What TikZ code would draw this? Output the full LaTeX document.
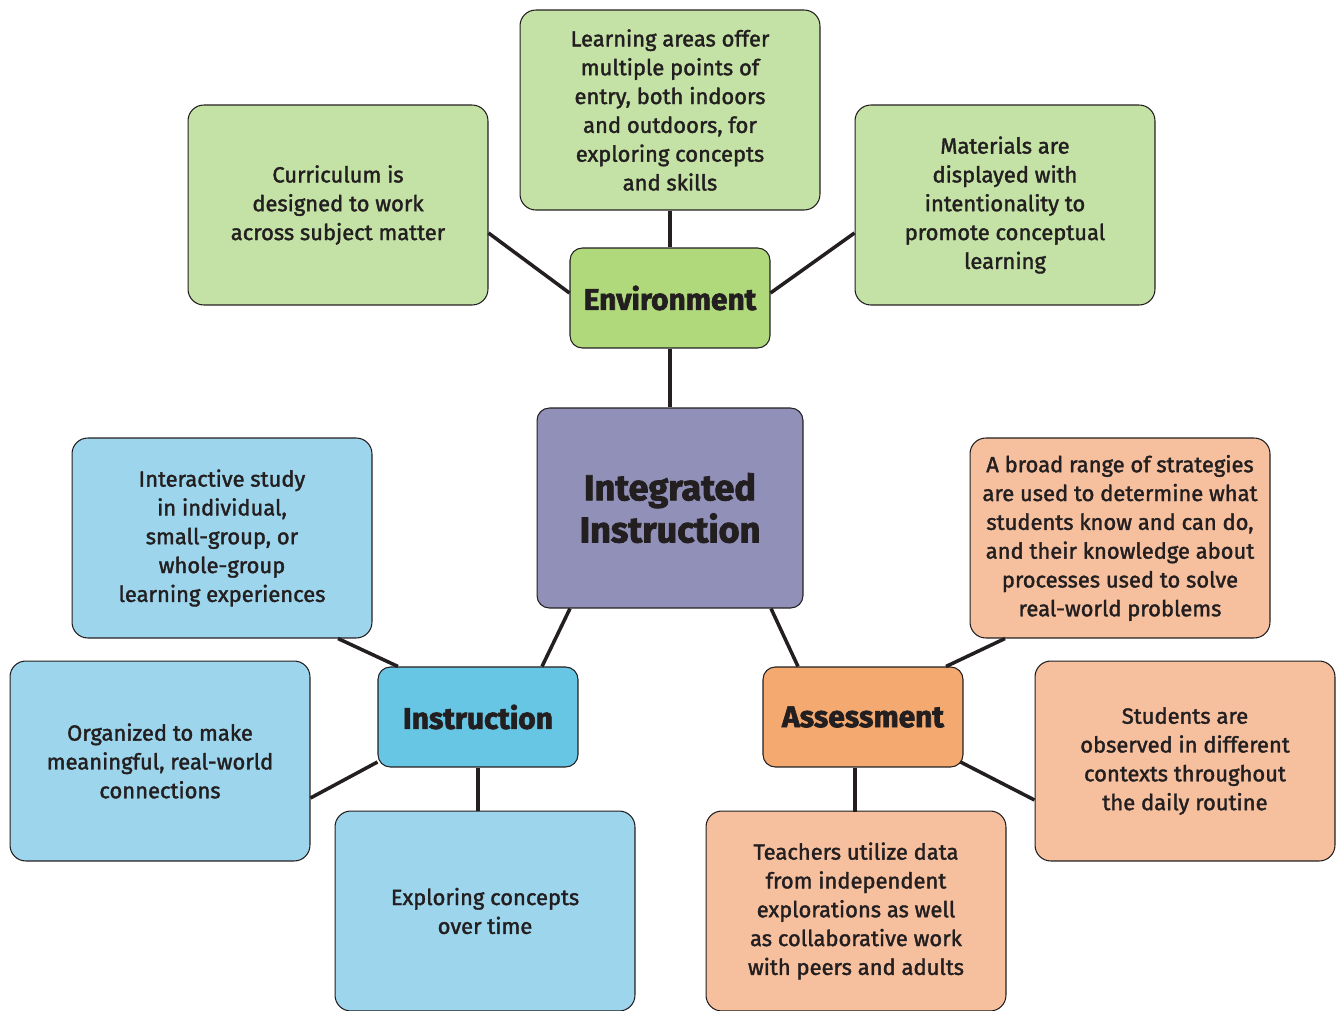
\documentclass[tikz,border=0pt]{standalone}
\usepackage{fontspec}
\setmainfont{Fira Sans}[UprightFeatures={FakeBold=1.7}]
\newfontfamily\titlefont{Fira Sans}[BoldFeatures={FakeBold=2.2}]
\usetikzlibrary{calc}
\definecolor{gl}{HTML}{C4E2A5}
\definecolor{gd}{HTML}{B0D97C}
\definecolor{pu}{HTML}{9090B8}
\definecolor{bl}{HTML}{9DD5EC}
\definecolor{bd}{HTML}{66C6E4}
\definecolor{ol}{HTML}{F6C09F}
\definecolor{od}{HTML}{F3A96F}
\definecolor{tx}{HTML}{231F20}
\tikzset{
  box/.style={draw=tx, line width=0.6pt, rounded corners=9pt, minimum width=6cm, minimum height=4cm, align=center, text=tx, font=\fontsize{12.5}{16.4}\selectfont},
  hub/.style={draw=tx, line width=0.6pt, rounded corners=7pt, minimum width=4cm, minimum height=2cm, align=center, text=tx, font=\titlefont\bfseries\fontsize{17}{18}\selectfont},
  conn/.style={draw=tx, line width=2pt}
}
\begin{document}
\begin{tikzpicture}[x=0.02cm, y=-0.02cm]
\useasboundingbox (0,0) rectangle (1343,1011);
\node[box, fill=gl] (top) at (670,110) {Learning areas offer\\multiple points of\\entry, both indoors\\and outdoors, for\\exploring concepts\\and skills};
\node[box, fill=gl] (cur) at (338,205) {Curriculum is\\designed to work\\across subject matter};
\node[box, fill=gl] (mat) at (1005,205) {Materials are\\displayed with\\intentionality to\\promote conceptual\\learning};
\node[hub, fill=gd] (env) at (670,298) {Environment};
\node[hub, fill=pu, minimum width=5.32cm, minimum height=4cm, font=\titlefont\bfseries\fontsize{20.5}{24}\selectfont] (int) at (670,508) {Integrated\\Instruction};
\node[box, fill=bl] (inter) at (222,538) {Interactive study\\in individual,\\small-group, or\\whole-group\\learning experiences};
\node[box, fill=bl] (org) at (160,761) {Organized to make\\meaningful, real-world\\connections};
\node[hub, fill=bd] (instr) at (478,717) {Instruction};
\node[box, fill=bl] (expl) at (485,911) {Exploring concepts\\over time};
\node[hub, fill=od] (assess) at (863,717) {Assessment};
\node[box, fill=ol] (broad) at (1120,538) {A broad range of strategies\\are used to determine what\\students know and can do,\\and their knowledge about\\processes used to solve\\real-world problems};
\node[box, fill=ol] (stud) at (1185,761) {Students are\\observed in different\\contexts throughout\\the daily routine};
\node[box, fill=ol] (teach) at (856,911) {Teachers utilize data\\from independent\\explorations as well\\as collaborative work\\with peers and adults};
% connectors
\draw[conn] (top.south) -- (env.north);
\draw[conn] ($(cur.east)+(0,28)$) -- ($(env.west)+(0,-5)$);
\draw[conn] ($(mat.west)+(0,28)$) -- ($(env.east)+(0,-5)$);
\draw[conn] (env.south) -- (int.north);
\draw[conn] ($(int.south)+(-100,0)$) -- ($(instr.north)+(64,0)$);
\draw[conn] ($(int.south)+(101,0)$) -- ($(assess.north)+(-65,0)$);
\draw[conn] ($(inter.south)+(116,0)$) -- ($(instr.north)+(-80,0)$);
\draw[conn] ($(org.east)+(0,37)$) -- ($(instr.west)+(0,45)$);
\draw[conn] (instr.south) -- (instr.south |- expl.north);
\draw[conn] ($(assess.south)+(-8,0)$) -- ($(assess.south)+(-8,44)$);
\draw[conn] ($(assess.north)+(83,0)$) -- ($(broad.south)+(-115,0)$);
\draw[conn] ($(assess.east)+(-3,45)$) -- ($(stud.west)+(0,39)$);
\end{tikzpicture}
\end{document}
